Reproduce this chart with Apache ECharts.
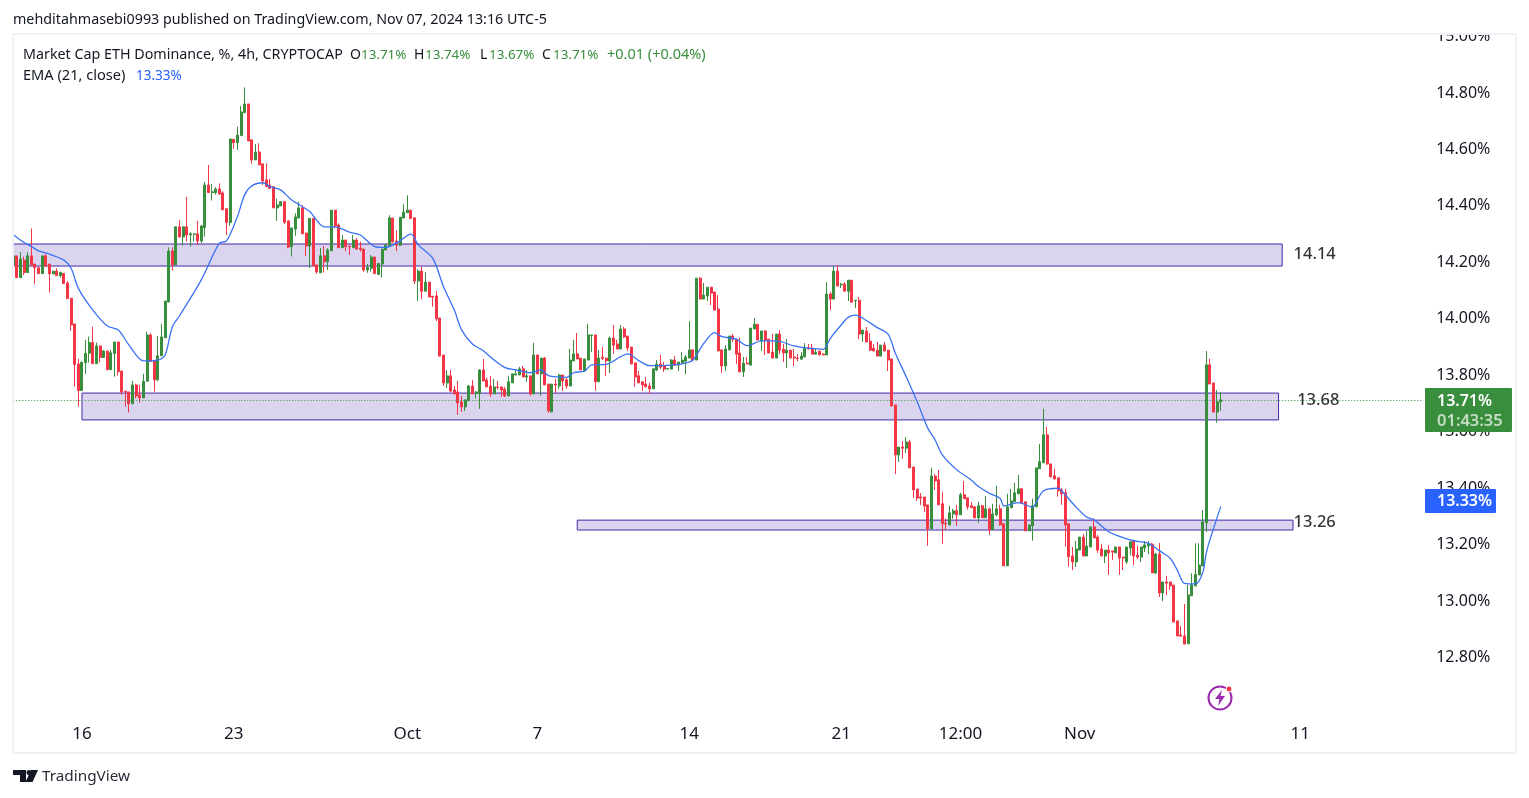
<!DOCTYPE html>
<html>
<head>
<meta charset="utf-8">
<title>Market Cap ETH Dominance</title>
<style>
  html, body { margin: 0; padding: 0; background: #fff; }
  #chart { width: 1529px; height: 798px; }
</style>
<script src="https://cdn.jsdelivr.net/npm/echarts@6/dist/echarts.min.js"></script>
</head>
<body>
<div id="chart"></div>
<script>
// 4h candles, ten per line
const opens = [
  14.191,14.223,14.146,14.208,14.164,14.223,14.194,14.181,14.16,14.223,
  14.194,14.159,14.169,14.153,14.161,14.127,14.073,13.982,13.84,13.746,
  13.845,13.878,13.916,13.841,13.904,13.863,13.886,13.82,13.877,13.918,
  13.815,13.743,13.741,13.699,13.766,13.73,13.72,13.779,13.943,13.851,
  13.784,13.869,13.933,14.06,14.24,14.191,14.326,14.29,14.326,14.297,
  14.299,14.301,14.276,14.323,14.474,14.447,14.447,14.46,14.446,14.39,
  14.341,14.636,14.624,14.649,14.73,14.761,14.634,14.563,14.591,14.549,
  14.492,14.474,14.468,14.393,14.4,14.415,14.347,14.256,14.318,14.357,
  14.393,14.304,14.258,14.356,14.191,14.163,14.223,14.202,14.241,14.385,
  14.332,14.252,14.279,14.258,14.252,14.279,14.25,14.247,14.173,14.179,
  14.219,14.157,14.194,14.244,14.258,14.357,14.275,14.261,14.357,14.376,
  14.385,14.358,14.134,14.169,14.098,14.13,14.08,14.081,14.003,13.872,
  13.773,13.798,13.748,13.741,13.706,13.688,13.71,13.762,13.736,13.736,
  13.819,13.783,13.762,13.734,13.759,13.759,13.751,13.727,13.773,13.801,
  13.801,13.823,13.794,13.798,13.734,13.872,13.805,13.861,13.769,13.67,
  13.769,13.762,13.801,13.784,13.762,13.851,13.876,13.861,13.815,13.854,
  13.941,13.943,13.777,13.864,13.861,13.851,13.932,13.911,13.893,13.964,
  13.939,13.9,13.844,13.798,13.777,13.769,13.762,13.752,13.819,13.84,
  13.833,13.822,13.822,13.854,13.836,13.843,13.85,13.861,13.89,13.854,
  14.144,14.07,14.081,14.112,14.095,14.035,13.89,13.833,13.89,13.939,
  13.928,13.879,13.812,13.843,13.836,13.964,13.981,13.921,13.957,13.928,
  13.882,13.861,13.946,13.893,13.879,13.889,13.865,13.861,13.857,13.865,
  13.896,13.896,13.875,13.886,13.875,13.872,14.088,14.07,14.169,14.121,
  14.123,14.098,14.137,14.064,14.066,13.946,13.957,13.921,13.896,13.889,
  13.868,13.907,13.889,13.858,13.695,13.518,13.546,13.542,13.564,13.475,
  13.397,13.369,13.369,13.341,13.256,13.443,13.43,13.345,13.276,13.27,
  13.309,13.32,13.306,13.377,13.366,13.338,13.334,13.295,13.338,13.295,
  13.327,13.253,13.306,13.327,13.274,13.125,13.331,13.352,13.38,13.398,
  13.352,13.249,13.267,13.334,13.469,13.49,13.589,13.486,13.444,13.437,
  13.394,13.384,13.274,13.16,13.139,13.181,13.227,13.16,13.192,13.263,
  13.227,13.185,13.16,13.181,13.178,13.171,13.192,13.156,13.139,13.188,
  13.213,13.163,13.156,13.188,13.195,13.202,13.1,13.167,13.029,13.068,
  13.068,13.057,12.93,12.88,12.877,12.849,13.019,13.054,13.093,13.125,
  13.278,13.837,13.773,13.67,13.706
];
const closes = [
  14.223,14.146,14.212,14.164,14.223,14.191,14.181,14.16,14.223,14.187,
  14.159,14.169,14.153,14.164,14.125,14.072,13.978,13.838,13.746,13.846,
  13.878,13.916,13.841,13.904,13.863,13.886,13.82,13.88,13.918,13.813,
  13.741,13.741,13.699,13.766,13.727,13.72,13.779,13.943,13.849,13.784,
  13.869,13.936,14.063,14.24,14.191,14.326,14.29,14.326,14.297,14.301,
  14.301,14.276,14.329,14.474,14.447,14.45,14.46,14.442,14.386,14.341,
  14.637,14.624,14.651,14.733,14.761,14.63,14.563,14.591,14.545,14.488,
  14.468,14.462,14.393,14.403,14.415,14.342,14.254,14.322,14.361,14.393,
  14.301,14.258,14.356,14.188,14.166,14.223,14.202,14.244,14.385,14.329,
  14.252,14.279,14.255,14.255,14.279,14.247,14.246,14.173,14.182,14.219,
  14.16,14.196,14.247,14.261,14.358,14.272,14.261,14.36,14.378,14.385,
  14.355,14.134,14.169,14.098,14.13,14.077,14.077,14,13.868,13.773,
  13.798,13.744,13.734,13.702,13.688,13.713,13.762,13.734,13.741,13.819,
  13.78,13.759,13.734,13.759,13.757,13.748,13.727,13.777,13.805,13.805,
  13.823,13.794,13.798,13.734,13.872,13.805,13.861,13.766,13.674,13.769,
  13.766,13.801,13.78,13.762,13.854,13.876,13.858,13.819,13.858,13.943,
  13.943,13.777,13.861,13.86,13.851,13.932,13.907,13.893,13.964,13.936,
  13.897,13.84,13.794,13.773,13.766,13.759,13.752,13.823,13.84,13.829,
  13.822,13.824,13.854,13.836,13.847,13.854,13.865,13.89,13.854,14.144,
  14.07,14.084,14.112,14.091,14.031,13.886,13.833,13.893,13.939,13.928,
  13.875,13.812,13.843,13.84,13.967,13.981,13.925,13.957,13.925,13.879,
  13.861,13.946,13.889,13.879,13.889,13.861,13.861,13.859,13.868,13.896,
  13.893,13.875,13.882,13.872,13.872,14.088,14.07,14.169,14.116,14.123,
  14.098,14.137,14.059,14.066,13.946,13.96,13.918,13.889,13.886,13.868,
  13.907,13.886,13.854,13.691,13.518,13.546,13.542,13.564,13.472,13.394,
  13.365,13.365,13.337,13.256,13.443,13.426,13.341,13.274,13.274,13.313,
  13.32,13.306,13.377,13.363,13.334,13.331,13.295,13.338,13.295,13.327,
  13.253,13.309,13.327,13.27,13.125,13.334,13.355,13.384,13.398,13.348,
  13.249,13.27,13.338,13.472,13.494,13.589,13.486,13.44,13.433,13.391,
  13.38,13.27,13.157,13.139,13.185,13.227,13.16,13.195,13.263,13.224,
  13.181,13.16,13.181,13.171,13.174,13.192,13.153,13.153,13.192,13.21,
  13.16,13.156,13.192,13.199,13.202,13.1,13.167,13.029,13.068,13.064,
  13.054,12.926,12.877,12.876,12.848,13.022,13.058,13.095,13.128,13.281,
  13.837,13.769,13.67,13.706,13.713
];
const lows = [
  14.191,14.146,14.146,14.155,14.164,14.191,14.123,14.16,14.16,14.187,
  14.093,14.159,14.153,14.146,14.125,14.072,13.958,13.76,13.689,13.746,
  13.805,13.845,13.841,13.841,13.845,13.863,13.82,13.82,13.795,13.799,
  13.732,13.689,13.668,13.699,13.719,13.703,13.72,13.779,13.849,13.742,
  13.78,13.869,13.933,14.058,14.171,14.191,14.288,14.26,14.274,14.256,
  14.274,14.262,14.268,14.291,14.447,14.419,14.44,14.44,14.386,14.297,
  14.33,14.602,14.598,14.649,14.73,14.63,14.549,14.563,14.545,14.474,
  14.468,14.462,14.393,14.347,14.4,14.336,14.25,14.221,14.294,14.357,
  14.301,14.223,14.18,14.188,14.159,14.163,14.164,14.173,14.241,14.32,
  14.252,14.252,14.24,14.226,14.252,14.247,14.238,14.167,14.163,14.167,
  14.16,14.155,14.146,14.244,14.258,14.272,14.24,14.258,14.357,14.376,
  14.355,14.123,14.063,14.069,14.098,14.077,14.043,13.992,13.868,13.762,
  13.755,13.741,13.734,13.66,13.67,13.674,13.71,13.734,13.718,13.681,
  13.78,13.759,13.723,13.734,13.75,13.723,13.723,13.727,13.773,13.801,
  13.801,13.794,13.777,13.727,13.734,13.805,13.727,13.766,13.667,13.67,
  13.738,13.752,13.745,13.752,13.762,13.851,13.858,13.819,13.815,13.854,
  13.883,13.745,13.777,13.854,13.798,13.808,13.876,13.893,13.893,13.932,
  13.886,13.84,13.759,13.773,13.745,13.759,13.734,13.752,13.815,13.822,
  13.812,13.822,13.822,13.836,13.815,13.843,13.804,13.861,13.854,13.854,
  14.07,14.07,14.063,14.049,14.031,13.886,13.808,13.815,13.89,13.918,
  13.84,13.812,13.794,13.84,13.836,13.964,13.925,13.886,13.872,13.879,
  13.861,13.861,13.875,13.847,13.826,13.861,13.833,13.85,13.857,13.865,
  13.893,13.875,13.875,13.872,13.872,13.872,14.031,14.07,14.116,14.109,
  14.098,14.063,14.059,14.038,13.928,13.918,13.918,13.886,13.886,13.868,
  13.868,13.886,13.815,13.691,13.45,13.493,13.504,13.525,13.472,13.365,
  13.355,13.341,13.316,13.196,13.256,13.394,13.341,13.203,13.253,13.27,
  13.292,13.267,13.306,13.363,13.324,13.331,13.295,13.278,13.295,13.295,
  13.235,13.253,13.3,13.267,13.125,13.125,13.331,13.352,13.38,13.348,
  13.249,13.249,13.214,13.334,13.469,13.49,13.483,13.44,13.43,13.37,
  13.341,13.193,13.122,13.11,13.121,13.181,13.16,13.16,13.192,13.224,
  13.171,13.16,13.135,13.093,13.146,13.171,13.093,13.11,13.132,13.163,
  13.128,13.149,13.139,13.174,13.167,13.1,13.096,13.015,13,13.022,
  13.04,12.926,12.877,12.876,12.848,12.849,13.019,13.054,13.093,13.125,
  13.245,13.769,13.668,13.632,13.674
];
const highs = [
  14.223,14.223,14.236,14.22,14.236,14.32,14.194,14.181,14.223,14.23,
  14.194,14.169,14.179,14.167,14.161,14.134,14.073,13.982,13.858,13.849,
  13.925,13.937,13.972,13.916,13.904,13.89,13.886,13.89,13.918,13.918,
  13.815,13.746,13.741,13.78,13.77,13.766,13.805,13.955,13.949,13.851,
  13.939,13.982,14.063,14.253,14.253,14.326,14.35,14.326,14.432,14.307,
  14.303,14.347,14.333,14.485,14.545,14.478,14.466,14.48,14.452,14.39,
  14.637,14.636,14.681,14.754,14.82,14.761,14.634,14.619,14.622,14.549,
  14.551,14.496,14.468,14.425,14.415,14.415,14.347,14.322,14.374,14.415,
  14.402,14.304,14.356,14.356,14.191,14.251,14.258,14.25,14.385,14.385,
  14.338,14.297,14.279,14.258,14.297,14.286,14.273,14.247,14.194,14.226,
  14.219,14.196,14.247,14.266,14.367,14.357,14.314,14.36,14.406,14.438,
  14.385,14.358,14.176,14.185,14.165,14.13,14.08,14.098,14.003,13.872,
  13.819,13.819,13.762,13.78,13.727,13.713,13.766,13.783,13.744,13.822,
  13.858,13.792,13.798,13.787,13.78,13.759,13.759,13.798,13.805,13.819,
  13.83,13.833,13.819,13.798,13.915,13.872,13.861,13.865,13.769,13.769,
  13.787,13.805,13.801,13.791,13.893,13.925,13.95,13.861,13.858,13.982,
  13.943,13.943,13.89,13.9,13.861,13.937,13.978,13.925,13.978,13.971,
  13.939,13.9,13.844,13.815,13.777,13.794,13.773,13.823,13.854,13.872,
  13.847,13.824,13.858,13.868,13.847,13.882,13.872,13.992,13.893,14.144,
  14.148,14.127,14.112,14.112,14.095,14.084,13.89,13.907,13.939,13.946,
  13.928,13.932,13.865,13.865,13.967,14.003,13.981,13.957,13.96,13.928,
  13.946,13.946,13.96,13.911,13.928,13.889,13.893,13.875,13.882,13.914,
  13.911,13.911,13.896,13.886,13.879,14.13,14.095,14.187,14.19,14.127,
  14.13,14.137,14.137,14.066,14.077,13.96,13.971,13.95,13.911,13.918,
  13.907,13.918,13.889,13.858,13.695,13.546,13.567,13.581,13.571,13.475,
  13.397,13.383,13.369,13.341,13.472,13.45,13.465,13.387,13.293,13.338,
  13.327,13.341,13.384,13.426,13.366,13.352,13.334,13.352,13.341,13.373,
  13.331,13.345,13.409,13.341,13.274,13.38,13.398,13.419,13.447,13.401,
  13.352,13.27,13.363,13.472,13.557,13.681,13.617,13.486,13.469,13.437,
  13.401,13.398,13.274,13.192,13.213,13.227,13.238,13.248,13.263,13.294,
  13.234,13.202,13.181,13.199,13.178,13.192,13.192,13.156,13.192,13.213,
  13.217,13.195,13.192,13.213,13.213,13.206,13.171,13.206,13.068,13.089,
  13.068,13.057,12.93,12.912,12.99,13.058,13.099,13.205,13.205,13.323,
  13.886,13.858,13.773,13.748,13.741
];

// EMA 21 read at these candle numbers
const emaIdx = [
  0,3,5,7,10,14,16,18,22,26,29,32,36,40,42,44,46,52,57,59,62,64,66,69,71,74,77,80,82,86,89,93,96,
  100,103,106,110,112,116,119,122,124,127,130,133,136,139,143,146,148,153,155,158,160,164,168,170,173,176,182,186,188,191,194,196,
  200,203,207,211,216,220,224,226,229,231,233,235,239,242,244,247,250,253,255,257,261,265,267,270,273,274,278,282,283,285,289,290,294,297,299,
  303,307,310,314,317,320,322,324,327,329,330,331,334
];
const emaVals = [
  14.298,14.27,14.256,14.241,14.229,14.208,14.179,14.108,14.031,13.975,13.961,13.907,13.851,13.854,13.872,13.972,14.011,14.138,14.268,14.276,14.362,14.439,14.471,14.482,14.468,14.456,14.421,14.397,14.38,14.326,14.326,14.307,14.297,
  14.256,14.253,14.268,14.3,14.262,14.215,14.114,14.031,13.961,13.911,13.887,13.854,13.827,13.819,13.809,13.819,13.799,13.793,13.809,13.815,13.837,13.839,13.866,13.876,13.852,13.834,13.836,13.843,13.854,13.913,13.951,13.937,
  13.928,13.905,13.922,13.922,13.904,13.896,13.892,13.931,13.978,14.006,14.013,14.002,13.969,13.946,13.878,13.795,13.707,13.612,13.571,13.518,13.465,13.429,13.406,13.382,13.364,13.337,13.349,13.333,13.352,13.391,13.4,13.391,13.333,13.297,13.288,
  13.246,13.225,13.214,13.205,13.179,13.152,13.11,13.063,13.061,13.1,13.17,13.217,13.335
];

// time axis, slot number -> label
const tickIdx = [19, 61, 109, 145, 187, 229, 262, 295, 356];
const tickLabels = ['16', '23', 'Oct', '7', '14', '21', '12:00', 'Nov', '11'];
const slotCount = 416;

// support / resistance boxes
const zoneStart = [0, 19, 156];
const zoneEnd = [351, 350, 354];
const zoneTop = [14.265, 13.737, 13.287];
const zoneBottom = [14.187, 13.642, 13.252];

// hand written level numbers next to the boxes
const levelIdx = [353.5, 355, 353.8];
const levelPrices = [14.23, 13.71, 13.281];
const levelLabels = ['14.14', '13.68', '13.26'];

const lastPrice = 13.71;
const green = '#388e3c';
const red = '#f23645';
const blue = '#2962ff';
const ink = '#131722';
const uiFont = '"Noto Sans", sans-serif';

let categories = new Array(slotCount).fill('');
tickIdx.forEach((idx, k) => { categories[idx] = tickLabels[k]; });

let candleData = opens.map((o, i) => [o, closes[i], lows[i], highs[i]]);
let emaData = emaIdx.map((idx, k) => [idx, emaVals[k]]);
let zoneData = zoneStart.map((s, k) => [
  { xAxis: s, yAxis: zoneTop[k] },
  { xAxis: zoneEnd[k], yAxis: zoneBottom[k] }
]);
let levelData = levelIdx.map((idx, k) => ({ value: [idx, levelPrices[k]], name: levelLabels[k] }));

function label(text, x, y, fill, size, weight) {
  return {
    type: 'text', x: x, y: y, z: 110, silent: true,
    style: {
      text: text, fill: fill, verticalAlign: 'middle', align: 'left',
      font: (weight || 'normal') + ' ' + size + 'px ' + uiFont
    }
  };
}

let graphics = [
  // white strips so the 15.00% label and the first candle get cut by the frame
  { type: 'rect', z: 100, silent: true, shape: { x: 0, y: 0, width: 1529, height: 33 }, style: { fill: '#fff' } },
  { type: 'rect', z: 100, silent: true, shape: { x: 0, y: 0, width: 13, height: 798 }, style: { fill: '#fff' } },
  { type: 'rect', z: 101, silent: true, shape: { x: 13, y: 34, width: 1503, height: 719 }, style: { fill: 'none', stroke: '#eff1f7', lineWidth: 2 } },

  label('mehditahmasebi0993 published on TradingView.com, Nov 07, 2024 13:16 UTC-5', 13, 20, ink, 14.3),
  label('Market Cap ETH Dominance, %, 4h, CRYPTOCAP', 23, 55, ink, 14.3),
  label('O', 350, 55, ink, 14), label('13.71%', 361, 55, green, 13.4),
  label('H', 414, 55, ink, 14), label('13.74%', 425, 55, green, 13.4),
  label('L', 480, 55, ink, 14), label('13.67%', 489, 55, green, 13.4),
  label('C', 542, 55, ink, 14), label('13.71%', 553, 55, green, 13.4),
  label('+0.01 (+0.04%)', 607, 55, green, 14.5),
  label('EMA (21, close)', 23, 76, ink, 14.6),
  label('13.33%', 136, 76, blue, 13.5),

  // price tags over the scale
  { type: 'rect', z: 105, silent: true, shape: { x: 1425, y: 388, width: 87, height: 44, r: 1 }, style: { fill: green } },
  label('13.71%', 1437, 401, '#fff', 16, '600'),
  label('01:43:35', 1437, 421, 'rgba(255,255,255,0.7)', 16.5, '600'),
  { type: 'rect', z: 105, silent: true, shape: { x: 1425, y: 489, width: 71, height: 24, r: 1 }, style: { fill: blue } },
  label('13.33%', 1437, 508 - 7, '#fff', 16, '600'),

  // lightning badge
  { type: 'circle', z: 106, silent: true, shape: { cx: 1220, cy: 698, r: 11.5 }, style: { fill: '#fff', stroke: '#9c27b0', lineWidth: 2 } },
  { type: 'polygon', z: 107, silent: true, shape: { points: [[1222, 690], [1215, 699], [1219.5, 699], [1218, 706], [1225, 696], [1220.5, 696]] }, style: { fill: '#9c27b0' } },
  { type: 'circle', z: 108, silent: true, shape: { cx: 1229, cy: 689, r: 3 }, style: { fill: '#f23645', stroke: '#fff', lineWidth: 1 } },

  // TradingView mark
  { type: 'polygon', z: 106, silent: true, shape: { points: [[13, 770], [26, 770], [26, 782], [20, 782], [20, 775], [13, 775]] }, style: { fill: ink } },
  { type: 'circle', z: 106, silent: true, shape: { cx: 29, cy: 772.5, r: 2.5 }, style: { fill: ink } },
  { type: 'polygon', z: 106, silent: true, shape: { points: [[31, 770], [38, 770], [32.5, 782], [25.5, 782]] }, style: { fill: ink } },
  label('TradingView', 42, 777, '#2a2e39', 15.3)
];

let myChart = echarts.init(document.getElementById('chart'));
let option = {
  animation: false,
  backgroundColor: '#fff',
  grid: { left: 11.5, top: 36.5, width: slotCount * 3.615, height: 677.6, containLabel: false },
  xAxis: {
    type: 'category',
    data: categories,
    boundaryGap: true,
    axisLine: { show: false },
    axisTick: { show: false },
    splitLine: { show: false },
    axisLabel: {
      interval: 0,
      hideOverlap: false,
      margin: 12,
      color: ink,
      fontFamily: uiFont,
      fontSize: 17
    }
  },
  yAxis: {
    type: 'value',
    position: 'right',
    min: 12.6,
    max: 15,
    interval: 0.2,
    axisLine: { show: false },
    axisTick: { show: false },
    splitLine: { show: false },
    axisLabel: {
      inside: true,
      margin: 25,
      showMinLabel: false,
      color: ink,
      fontFamily: uiFont,
      fontSize: 16,
      padding: [4, 0, 0, 0],
      formatter: v => v.toFixed(2) + '%'
    }
  },
  series: [
    {
      name: 'Market Cap ETH Dominance',
      type: 'candlestick',
      data: candleData,
      barWidth: 2.5,
      itemStyle: { color: green, color0: red, borderColor: green, borderColor0: red, borderWidth: 1 },
      markArea: {
        silent: true,
        itemStyle: { color: 'rgba(90,60,180,0.22)', borderColor: '#4527a8', borderWidth: 1 },
        data: zoneData
      },
      markLine: {
        silent: true,
        symbol: 'none',
        label: { show: false },
        lineStyle: { color: green, type: [1, 2], width: 1 },
        data: [[{ xAxis: 0, yAxis: lastPrice }, { xAxis: 390, yAxis: lastPrice }]]
      }
    },
    {
      name: 'EMA (21, close)',
      type: 'line',
      data: emaData,
      showSymbol: false,
      silent: true,
      smooth: 0.3,
      z: 3,
      lineStyle: { color: '#3a72f5', width: 1.3 }
    },
    {
      name: 'levels',
      type: 'scatter',
      data: levelData,
      symbolSize: 1,
      silent: true,
      z: 6,
      itemStyle: { color: 'rgba(0,0,0,0)' },
      label: {
        show: true,
        position: 'right',
        distance: 0,
        formatter: p => p.name,
        color: '#000',
        fontFamily: uiFont,
        fontWeight: 500,
        fontSize: 16.5
      }
    }
  ],
  graphic: { elements: graphics }
};
myChart.setOption(option);
</script>
</body>
</html>
